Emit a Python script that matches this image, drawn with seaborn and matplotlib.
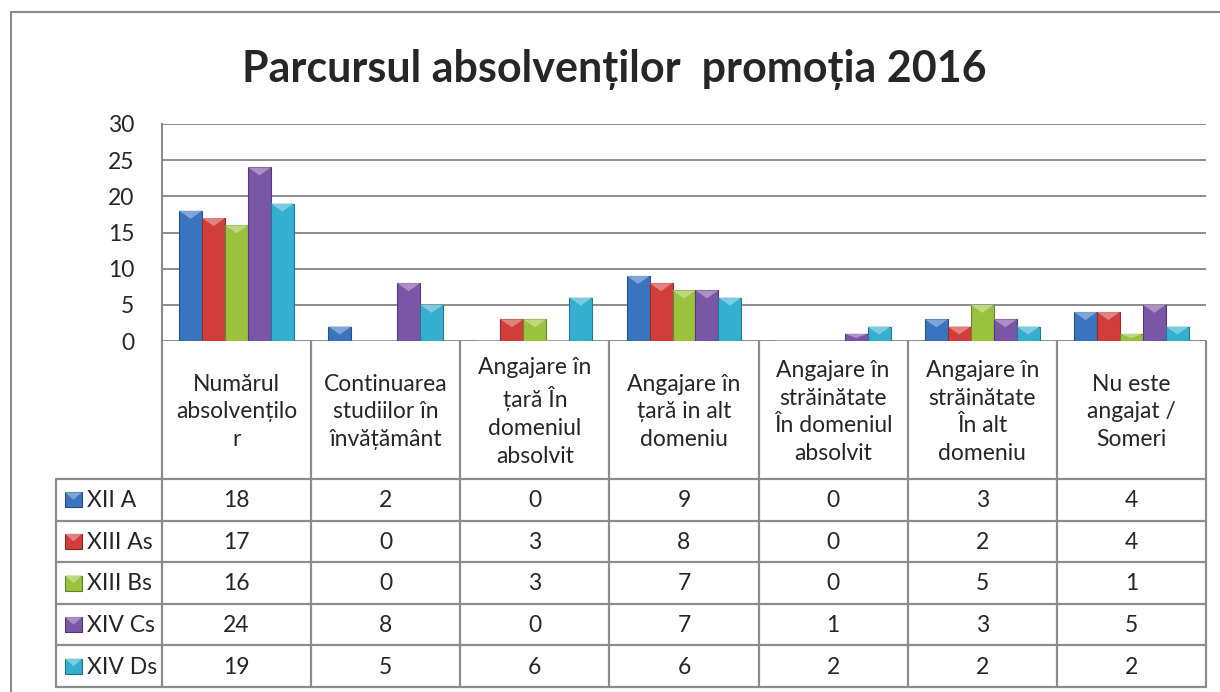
import numpy as np
import pandas as pd
import matplotlib
matplotlib.use("Agg")
import matplotlib.pyplot as plt
import matplotlib.colors as mcolors
from matplotlib.patches import Rectangle, Polygon
import seaborn as sns

title = "Parcursul absolvenților  promoția 2016"
categories = [
    "Numărul\nabsolvențilo\nr",
    "Continuarea\nstudiilor în\nînvățământ",
    "Angajare în\nțară În\ndomeniul\nabsolvit",
    "Angajare în\nțară in alt\ndomeniu",
    "Angajare în\nstrăinătate\nÎn domeniul\nabsolvit",
    "Angajare în\nstrăinătate\nÎn alt\ndomeniu",
    "Nu este\nangajat /\nSomeri",
]
classes = ["XII A", "XIII As", "XIII Bs", "XIV Cs", "XIV Ds"]
xii_a = [18, 2, 0, 9, 0, 3, 4]
xiii_as = [17, 0, 3, 8, 0, 2, 4]
xiii_bs = [16, 0, 3, 7, 0, 5, 1]
xiv_cs = [24, 8, 0, 7, 1, 3, 5]
xiv_ds = [19, 5, 6, 6, 2, 2, 2]
y_ticks = [0, 5, 10, 15, 20, 25, 30]
colors = ["#3B74BE", "#D13D3B", "#9BC23F", "#7A56A6", "#35AFCF"]

series = [xii_a, xiii_as, xiii_bs, xiv_cs, xiv_ds]
rows = []
for cls, vals in zip(classes, series):
    for cat, v in zip(categories, vals):
        rows.append({"categorie": cat, "valoare": v, "clasa": cls})
df = pd.DataFrame(rows)

sns.set_style("white")
plt.rcParams["font.family"] = ["Lato", "DejaVu Sans"]

W, H = 1220, 692
fig = plt.figure(figsize=(W / 100, H / 100), dpi=100)

# outer chart frame (cut off at right/bottom like the screenshot)
fig.add_artist(plt.Line2D([11 / W, 1], [1 - 12 / H, 1 - 12 / H], color="#8C8C8C", lw=1.5))
fig.add_artist(plt.Line2D([11 / W, 11 / W], [0, 1 - 12 / H], color="#8C8C8C", lw=1.5))

fig.text(614 / W, 1 - 70 / H, title, ha="center", va="center", fontsize=31, fontweight="bold")

px_left, px_right, px_top, px_zero, px_bottom = 162, 1206, 124, 341, 687
ax = fig.add_axes([px_left / W, 1 - px_zero / H, (px_right - px_left) / W, (px_zero - px_top) / H])
sns.barplot(data=df, x="categorie", y="valoare", hue="clasa", palette=colors, width=0.77,
            saturation=1, legend=False, ax=ax, zorder=3)
ax.set_ylim(0, 30)
ax.set_xlim(-0.5, len(categories) - 0.5)
ax.set_yticks(y_ticks)
ax.set_xticks([])
ax.set_xlabel("")
ax.set_ylabel("")
ax.tick_params(axis="y", length=0, pad=20, labelsize=16.5)
ax.set_axisbelow(True)
ax.yaxis.grid(True, color="#8C8C8C", lw=1.4)
for s in ["top", "right", "bottom"]:
    ax.spines[s].set_visible(False)
ax.spines["left"].set_color("#8C8C8C")
ax.spines["left"].set_linewidth(1.5)

unit_px = (px_zero - px_top) / 30.0
for p in ax.patches:
    h = p.get_height()
    if h <= 0:
        continue
    fc = np.array(mcolors.to_rgb(p.get_facecolor()))
    p.set_edgecolor(tuple(fc * 0.7))
    p.set_linewidth(0.8)
    x0, w = p.get_x(), p.get_width()
    tri = min(8 / unit_px, 0.6 * h)
    light = tuple(fc + (1 - fc) * 0.35)
    ax.add_patch(Polygon([(x0, h), (x0 + w, h), (x0 + w / 2, h - tri)], closed=True,
                         facecolor=light, edgecolor="none", zorder=4))

# data table under the chart
ax_t = fig.add_axes([px_left / W, 1 - px_bottom / H, (px_right - px_left) / W, (px_bottom - px_zero) / H])
ax_t.set_xlim(-0.5, len(categories) - 0.5)
header_h = 138
row_h = (px_bottom - px_zero - header_h) / len(classes)
ax_t.set_ylim(px_bottom - px_zero, 0)
ax_t.axis("off")
cat_px = (px_right - px_left) / len(categories)
x_left = -0.5 - 106 / cat_px
lc, lw = "#8C8C8C", 1.6

for k in range(len(categories) + 1):
    ax_t.plot([k - 0.5, k - 0.5], [0, px_bottom - px_zero], color=lc, lw=lw, clip_on=False)
ax_t.plot([x_left, x_left], [header_h, px_bottom - px_zero], color=lc, lw=lw, clip_on=False)
for r in range(len(classes) + 1):
    yy = header_h + r * row_h
    ax_t.plot([x_left, len(categories) - 0.5], [yy, yy], color=lc, lw=lw, clip_on=False)

for i, cat in enumerate(categories):
    ax_t.text(i, header_h / 2 + 2, cat, ha="center", va="center", fontsize=16.5,
              linespacing=1.4, clip_on=False)

for r, (cls, vals, col) in enumerate(zip(classes, series, colors)):
    yc = header_h + (r + 0.5) * row_h
    for i, v in enumerate(vals):
        ax_t.text(i, yc + 1, str(v), ha="center", va="center", fontsize=16.5)
    fc = np.array(mcolors.to_rgb(col))
    ix = x_left + 9 / cat_px
    iw = 17 / cat_px
    ax_t.add_patch(Rectangle((ix, yc - 7.5), iw, 15, facecolor=col, edgecolor=tuple(fc * 0.65),
                             lw=0.8, clip_on=False))
    ax_t.add_patch(Polygon([(ix, yc - 7.5), (ix + iw, yc - 7.5), (ix + iw / 2, yc)], closed=True,
                           facecolor=tuple(fc + (1 - fc) * 0.35), edgecolor="none", clip_on=False))
    ax_t.text(x_left + 31 / cat_px, yc + 1, cls, ha="left", va="center", fontsize=16.5, clip_on=False)

fig.savefig("out.png", dpi=100)
